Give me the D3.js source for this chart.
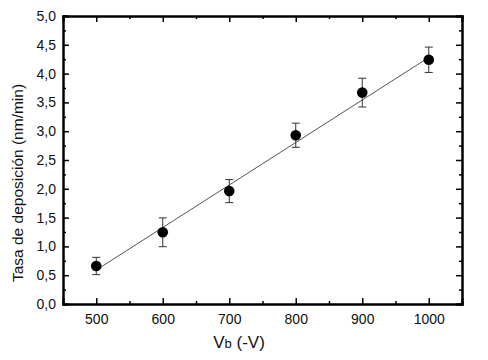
<!DOCTYPE html>
<html><head><meta charset="utf-8">
<script src="https://cdn.jsdelivr.net/npm/d3@7/dist/d3.min.js"></script>
<style>body{margin:0;background:#fff;} text{font-family:Arial,"Liberation Sans",sans-serif;}</style>
</head><body><svg id="c" width="488" height="360"></svg>
<script>
const voltages = [500, 600, 700, 800, 900, 1000];
const rates = [0.66, 1.245, 1.96, 2.93, 3.67, 4.24];
const errors = [0.15, 0.25, 0.20, 0.21, 0.25, 0.22];
const fitX = [500, 1000];
const fitY = [0.59, 4.28];
const xTicks = [500, 600, 700, 800, 900, 1000];
const yTicks = [0, 0.5, 1, 1.5, 2, 2.5, 3, 3.5, 4, 4.5, 5];

const svg = d3.select('#c');
const L = 63, R = 462, T = 16, B = 304;
const x = d3.scaleLinear().domain([450, 1050]).range([L, R]);
const y = d3.scaleLinear().domain([0, 5]).range([B, T]);
const fmt = d => d3.format('.1f')(d).replace('.', ',');

const xMinor = d3.range(550, 1050, 100);
const yMinor = d3.range(0.25, 5, 0.5);

const gB = svg.append('g').attr('transform', `translate(0,${B})`)
  .call(d3.axisBottom(x).tickValues(xTicks).tickSize(-6).tickPadding(10).tickFormat(d3.format('d')));
const gT = svg.append('g').attr('transform', `translate(0,${T})`)
  .call(d3.axisTop(x).tickValues(xTicks).tickSize(-6).tickFormat(''));
const gL = svg.append('g').attr('transform', `translate(${L},0)`)
  .call(d3.axisLeft(y).tickValues(yTicks).tickSize(-6).tickPadding(7).tickFormat(fmt));
const gR = svg.append('g').attr('transform', `translate(${R},0)`)
  .call(d3.axisRight(y).tickValues(yTicks).tickSize(-6).tickFormat(''));
svg.append('g').attr('transform', `translate(0,${B})`).call(d3.axisBottom(x).tickValues(xMinor).tickSize(-3).tickFormat(''));
svg.append('g').attr('transform', `translate(0,${T})`).call(d3.axisTop(x).tickValues(xMinor).tickSize(-3).tickFormat(''));
svg.append('g').attr('transform', `translate(${L},0)`).call(d3.axisLeft(y).tickValues(yMinor).tickSize(-3).tickFormat(''));
svg.append('g').attr('transform', `translate(${R},0)`).call(d3.axisRight(y).tickValues(yMinor).tickSize(-3).tickFormat(''));

svg.selectAll('.domain').attr('stroke', '#000').attr('stroke-width', 2);
svg.selectAll('.tick line').attr('stroke', '#000').attr('stroke-width', 1.5);
svg.selectAll('.tick text').attr('fill', '#111').style('font-size', '14px').style('font-family', 'Arial,"Liberation Sans",sans-serif');

svg.append('line')
  .attr('x1', x(fitX[0])).attr('y1', y(fitY[0]))
  .attr('x2', x(fitX[1])).attr('y2', y(fitY[1]))
  .attr('stroke', '#555').attr('stroke-width', 1);

const eb = svg.append('g').attr('stroke', '#333').attr('stroke-width', 1);
voltages.forEach((v, i) => {
  const cx = x(v), y1 = y(rates[i] + errors[i]), y2 = y(rates[i] - errors[i]);
  eb.append('line').attr('x1', cx).attr('x2', cx).attr('y1', y1).attr('y2', y2);
  eb.append('line').attr('x1', cx - 4).attr('x2', cx + 4).attr('y1', y1).attr('y2', y1);
  eb.append('line').attr('x1', cx - 4).attr('x2', cx + 4).attr('y1', y2).attr('y2', y2);
});

svg.append('g').selectAll('circle').data(voltages).join('circle')
  .attr('cx', d => x(d)).attr('cy', (d, i) => y(rates[i])).attr('r', 5.3)
  .attr('fill', '#000');

svg.append('text').attr('transform', `translate(23,183) rotate(-90)`)
  .attr('text-anchor', 'middle').style('font-size', '15.5px').attr('fill', '#111')
  .text('Tasa de deposición (nm/min)');
const xt = svg.append('text').attr('x', 239).attr('y', 348).attr('text-anchor', 'middle')
  .style('font-size', '17px').attr('fill', '#111');
xt.append('tspan').text('V');
xt.append('tspan').style('font-size', '13px').text('b');
xt.append('tspan').text(' (-V)');
</script></body></html>
